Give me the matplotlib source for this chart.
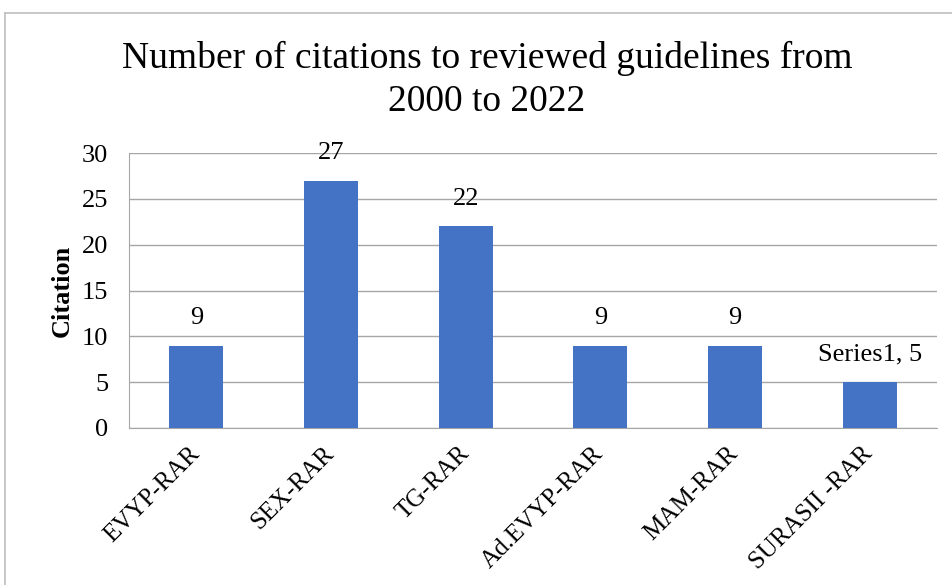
import matplotlib
matplotlib.use("Agg")
import matplotlib.pyplot as plt
from matplotlib.lines import Line2D

categories = ["EVYP-RAR", "SEX-RAR", "TG-RAR", "Ad.EVYP-RAR", "MAM-RAR", "SURASII -RAR"]
values = [9, 27, 22, 9, 9, 5]
data_labels = ["9", "27", "22", "9", "9", "Series1, 5"]
yticks = [0, 5, 10, 15, 20, 25, 30]
title = "Number of citations to reviewed guidelines from\n2000 to 2022"
ylabel = "Citation"

plt.rcParams['font.family'] = ['Liberation Serif', 'DejaVu Serif']

W, H = 953, 585
fig = plt.figure(figsize=(W/100, H/100), dpi=100)
ax = fig.add_axes([129/W, 1-428/H, (937-129)/W, (428-153)/H])

x = list(range(len(categories)))
ax.bar(x, values, width=0.4, color="#4472C4", zorder=3)
ax.set_xlim(-0.5, len(categories)-0.5)
ax.set_ylim(0, 30)
ax.set_yticks(yticks)
ax.grid(axis='y', color='#a6a6a6', linewidth=1.0, zorder=0)
for s in ['top', 'right']:
    ax.spines[s].set_visible(False)
ax.spines['left'].set_color('#a6a6a6')
ax.spines['bottom'].set_color('#a6a6a6')
ax.tick_params(axis='both', length=0, labelsize=19)
ax.tick_params(axis='y', pad=15)
ax.set_xticks(x)
ax.set_xticklabels(categories, rotation=45, ha='right', va='center',
                   rotation_mode='anchor', fontsize=18)
ax.tick_params(axis='x', pad=16)

for xi, v, lab in zip(x, values, data_labels):
    ax.annotate(lab, (xi, v), xytext=(0, 20), textcoords='offset points',
                ha='center', va='center', fontsize=19)

ax.set_ylabel(ylabel, fontsize=19, fontweight='bold', labelpad=6)
fig.text(487/W, 1-80/H, title, ha='center', va='center', fontsize=27,
         linespacing=1.3)

fig.lines.append(Line2D([4.5/W, 4.5/W], [0, 1-13/H], transform=fig.transFigure,
                        color='#bfbfbf', linewidth=1.2))
fig.lines.append(Line2D([4.5/W, 1], [1-13/H, 1-13/H], transform=fig.transFigure,
                        color='#bfbfbf', linewidth=1.2))

fig.savefig("out.png", dpi=100)
